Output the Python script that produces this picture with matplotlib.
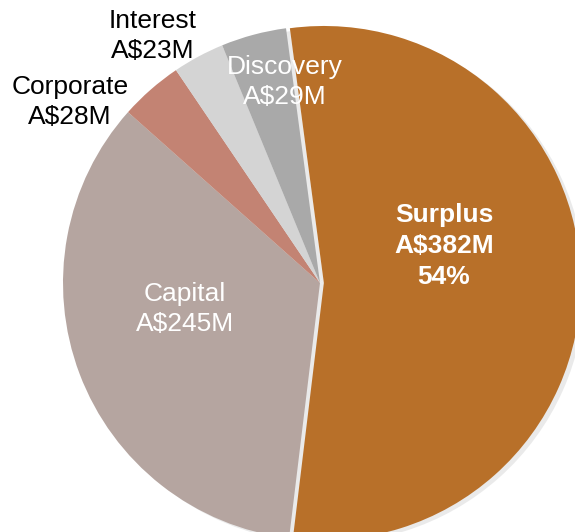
import matplotlib.pyplot as plt
import matplotlib

matplotlib.rcParams['font.family'] = ['Liberation Sans', 'DejaVu Sans']
matplotlib.rcParams['font.size'] = 19

# segments, clockwise from the top
names = ['Surplus', 'Capital', 'Corporate', 'Interest', 'Discovery']
values = [382, 245, 28, 23, 29]
colors = ['#B87029', '#B5A5A0', '#C38373', '#D4D4D4', '#A9A9A9']
explode = [0.015, 0, 0, 0, 0]

fig = plt.figure(figsize=(5.75, 5.32), dpi=100)
ax = fig.add_axes([0, 0, 1, 1])

R = 257.0  # pie radius in pixels
cx, cy = 320.0, 283.0
ax.pie(values, colors=colors, explode=explode, startangle=97.6, counterclock=False,
       wedgeprops={'edgecolor': 'none', 'linewidth': 0},
       shadow={'ox': 0.012, 'oy': -0.008, 'facecolor': '#dddddd', 'edgecolor': 'none', 'alpha': 0.6})
ax.set_aspect('auto')
ax.set_xlim(-cx / R, (575 - cx) / R)
ax.set_ylim(-(532 - cy) / R, cy / R)
ax.axis('off')

total = sum(values)


def px(x, y):
    return (x - cx) / R, (cy - y) / R


ls = 1.36
ax.text(*px(444, 246), 'Surplus\nA$%dM\n%d%%' % (values[0], round(values[0] / total * 100)),
        color='white', fontweight='bold', ha='center', va='center', linespacing=ls)
ax.text(*px(185, 309), 'Capital\nA$%dM' % values[1], color='white', ha='center', va='center', linespacing=ls)
ax.text(*px(70, 102), 'Corporate\nA$%dM' % values[2], color='black', ha='center', va='center', linespacing=ls)
ax.text(*px(153, 36), 'Interest\nA$%dM' % values[3], color='black', ha='center', va='center', linespacing=ls)
ax.text(*px(285, 82), 'Discovery\nA$%dM' % values[4], color='white', ha='center', va='center', linespacing=ls)

fig.savefig('out.png', dpi=100)
